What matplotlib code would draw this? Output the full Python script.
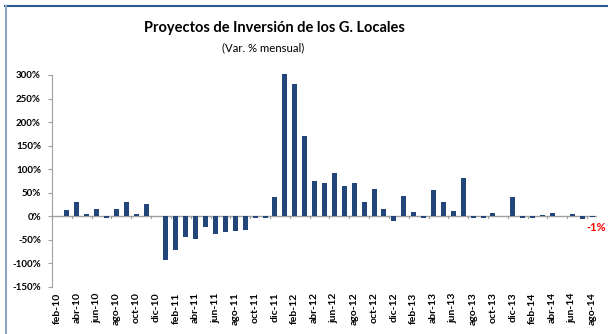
import numpy as np
import matplotlib.pyplot as plt
from matplotlib.lines import Line2D

# Variación % mensual, feb-10 a ago-14
meses = ["ene", "feb", "mar", "abr", "may", "jun", "jul", "ago", "sep", "oct", "nov", "dic"]
periodos = [f"{meses[m]}-{a % 100:02d}" for a in range(2010, 2015) for m in range(12)]
periodos = periodos[1:periodos.index("ago-14") + 1]

var_pct = [
    0, 12, 29, 4, 16, -4, 16, 30, 5, 25, 0,            # 2010 (feb-dic)
    -94, -71, -44, -49, -23, -38, -34, -32, -29, -4, -3, 40,   # 2011
    302, 280, 171, 75, 70, 91, 65, 71, 31, 58, 16, -10,        # 2012
    43, 9, -4, 55, 31, 11, 80, -3, -4, 7, 0, 40,               # 2013
    -4, -4, 3, 7, 0, 5, -6, -1,                                 # 2014 (ene-ago)
]

color_barra = "#23467a"

fig = plt.figure(figsize=(6.08, 3.34), dpi=100)
ax = fig.add_axes([52 / 608, 1 - 286.7 / 334, 545 / 608, (286.7 - 75) / 334])

x = np.arange(len(periodos))
ax.bar(x, var_pct, width=0.5, color=color_barra, clip_on=False, zorder=3)

ax.set_xlim(-0.5, len(periodos) - 0.5)
ax.set_ylim(-150, 300)
ax.set_yticks(np.arange(-150, 301, 50))
ax.set_yticklabels([f"{v}%" for v in range(-150, 301, 50)],
                   fontsize=7, fontweight="bold", family="Lato")

# etiquetas cada dos meses, centradas en la categoría
ax.set_xticks(x[::2])
ax.set_xticklabels(periodos[::2], rotation=90, fontsize=7.5, fontweight="bold",
                   family="Lato")
ax.tick_params(axis="x", length=0, pad=4)
ax.tick_params(axis="y", length=3, color="#a0a0a0", pad=5)

for s in ["top", "right", "bottom"]:
    ax.spines[s].set_visible(False)
ax.spines["left"].set_color("#a0a0a0")

# eje horizontal en 0% con marcas entre categorías
ax.axhline(0, color="#a0a0a0", lw=1, zorder=2)
for k in np.arange(-0.5, len(periodos), 2):
    ax.plot([k, k], [0, -5], color="#a0a0a0", lw=0.8, clip_on=False, zorder=2)

# último dato destacado
ax.annotate(f"{var_pct[-1]}%", (x[-1], var_pct[-1]), xytext=(3, -8),
            textcoords="offset points", ha="center", va="center",
            color="red", fontsize=8, fontweight="bold", family="Lato")

fig.text(274 / 608, 1 - 28 / 334, "Proyectos de Inversión de los G. Locales",
         ha="center", va="center", fontsize=10.5, fontweight="bold", family="Lato")
fig.text(263 / 608, 1 - 48 / 334, "(Var. % mensual)",
         ha="center", va="center", fontsize=8.2, family="Lato")

# marco del gráfico
fig.add_artist(Line2D([5 / 608, 1], [1 - 6 / 334] * 2, color="#2e5a94", lw=1.5))
fig.add_artist(Line2D([5.5 / 608] * 2, [0, 1 - 6 / 334], color="#8ea6c6", lw=1.5))

fig.savefig("out.png", dpi=100)
